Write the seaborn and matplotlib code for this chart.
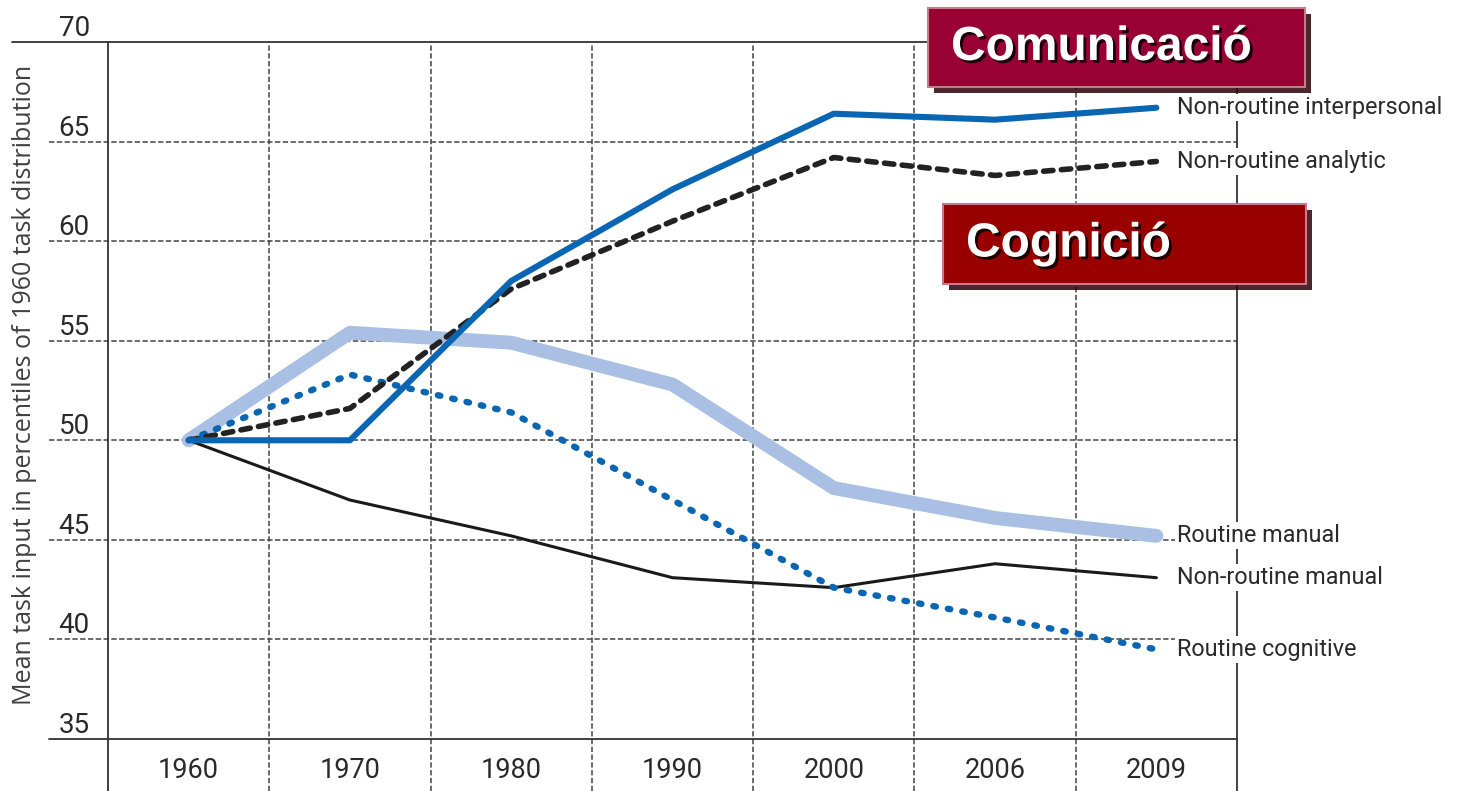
import matplotlib
matplotlib.use("Agg")
import matplotlib.pyplot as plt
import matplotlib.patheffects as pe
from matplotlib import font_manager
from matplotlib.lines import Line2D
from matplotlib.patches import Rectangle
import pandas as pd
import seaborn as sns

# --- data ---
years = ["1960", "1970", "1980", "1990", "2000", "2006", "2009"]
nonroutine_interpersonal = [50.0, 50.0, 58.0, 62.6, 66.4, 66.1, 66.7]
nonroutine_analytic = [50.0, 51.6, 57.6, 61.0, 64.2, 63.3, 64.0]
routine_manual = [50.0, 55.4, 54.9, 52.8, 47.6, 46.1, 45.2]
nonroutine_manual = [50.0, 47.0, 45.2, 43.1, 42.6, 43.8, 43.1]
routine_cognitive = [50.0, 53.3, 51.4, 47.0, 42.6, 41.1, 39.5]
y_ticks = [35, 40, 45, 50, 55, 60, 65, 70]

# pick a condensed family when it exists
names = {f.name for f in font_manager.fontManager.ttflist}
narrow = "Liberation Sans Narrow" if "Liberation Sans Narrow" in names else "Roboto"

sns.set_style("white")
plt.rcParams["font.family"] = [narrow, "DejaVu Sans"]

fig = plt.figure(figsize=(14.7, 7.91), dpi=100)
ax = fig.add_axes([108 / 1470, 1 - 739 / 791, 1129 / 1470, 697 / 791])

df = pd.DataFrame({"year": years})
# series: (values, colour, linewidth, linestyle, capstyle, zorder)
series = [
    ("Routine manual", routine_manual, "#a9bfe3", 10, "-", "round", 2),
    ("Non-routine manual", nonroutine_manual, "#1a1a1a", 2.2, "-", "round", 3),
    ("Routine cognitive", routine_cognitive, "#0a66b2", 4.6, (0, (0.4, 1.9)), "round", 4),
    ("Non-routine analytic", nonroutine_analytic, "#222222", 4.0, (0, (1.7, 1.5)), "round", 5),
    ("Non-routine interpersonal", nonroutine_interpersonal, "#0a66b2", 4.4, "-", "round", 6),
]

for name, vals, col, lw, ls, cap, z in series:
    df[name] = vals
    sns.lineplot(data=df, x="year", y=name, ax=ax, color=col, lw=lw,
                 linestyle=ls, sort=False, zorder=z,
                 solid_capstyle=cap, dash_capstyle=cap)
    ax.annotate(name, xy=(len(years) - 1, vals[-1]), xytext=(15, 0),
                textcoords="offset points", va="center", ha="left",
                fontsize=16.8, color="#2a2a2a", zorder=10,
                bbox=dict(fc="white", ec="none", pad=1.5),
                annotation_clip=False)

ax.set_xlim(-0.5, len(years) - 0.5)
ax.set_ylim(35, 70)
ax.set_yticks(y_ticks)
ax.set_yticklabels([str(t) for t in y_ticks])
ax.set_xlabel("")
ax.set_ylabel("")
ax.tick_params(axis="y", length=0, pad=13, labelsize=20, labelcolor="#2a2a2a")
ax.tick_params(axis="x", length=0, pad=13, labelsize=19.5, labelcolor="#2a2a2a")
for lab in ax.get_yticklabels():
    lab.set_va("bottom")
for s in ax.spines.values():
    s.set_visible(False)

# dashed grid running past the frame, like the original
grid_kw = dict(color="#444444", lw=1.1, linestyle=(0, (3.5, 1.6)), clip_on=False, zorder=1)
for t in y_ticks[1:-1]:
    ax.axhline(t, xmin=-0.052, xmax=1, **grid_kw)
for k in range(len(years) - 1):
    ax.axvline(k + 0.5, ymin=-0.075, ymax=1, **grid_kw)

frame_kw = dict(color="#333333", lw=1.3, transform=ax.transAxes, clip_on=False, zorder=1)
ax.add_line(Line2D([0, 0], [-0.075, 1], **frame_kw))
ax.add_line(Line2D([1, 1], [-0.075, 1], **frame_kw))
ax.add_line(Line2D([-0.052, 1], [0, 0], **frame_kw))
ax.add_line(Line2D([-0.085, 0.75], [1, 1], **frame_kw))

fig.text(25 / 1470, 1 - 385 / 791,
         "Mean task input in percentiles of 1960 task distribution",
         rotation=90, ha="center", va="center", fontsize=18,
         color="#404040", family=["Open Sans", "DejaVu Sans"])

# red title boxes
def title_box(x0, y0, x1, y1, face, label, tx):
    w, h = (x1 - x0) / 1470, (y1 - y0) / 791
    rect = Rectangle((x0 / 1470, 1 - y1 / 791), w, h, transform=fig.transFigure,
                     fc=face, ec="#c87a86", lw=1.5, zorder=20)
    rect.set_path_effects([pe.SimplePatchShadow(offset=(4, -4), shadow_rgbFace="#2a0008",
                                                alpha=0.85), pe.Normal()])
    fig.add_artist(rect)
    fig.text(tx / 1470, 1 - (y0 + y1) / 2 / 791, label, ha="left", va="center",
             fontsize=34.5, weight="bold", color="white", zorder=21,
             family=["Liberation Sans", "DejaVu Sans"],
             path_effects=[pe.withSimplePatchShadow(offset=(2, -2), shadow_rgbFace="black",
                                                     alpha=0.8)])

title_box(928, 8, 1305, 87, "#990033", "Comunicació", 951)
title_box(943, 204, 1306, 284, "#990000", "Cognició", 966)

fig.savefig("out.png", dpi=100)
